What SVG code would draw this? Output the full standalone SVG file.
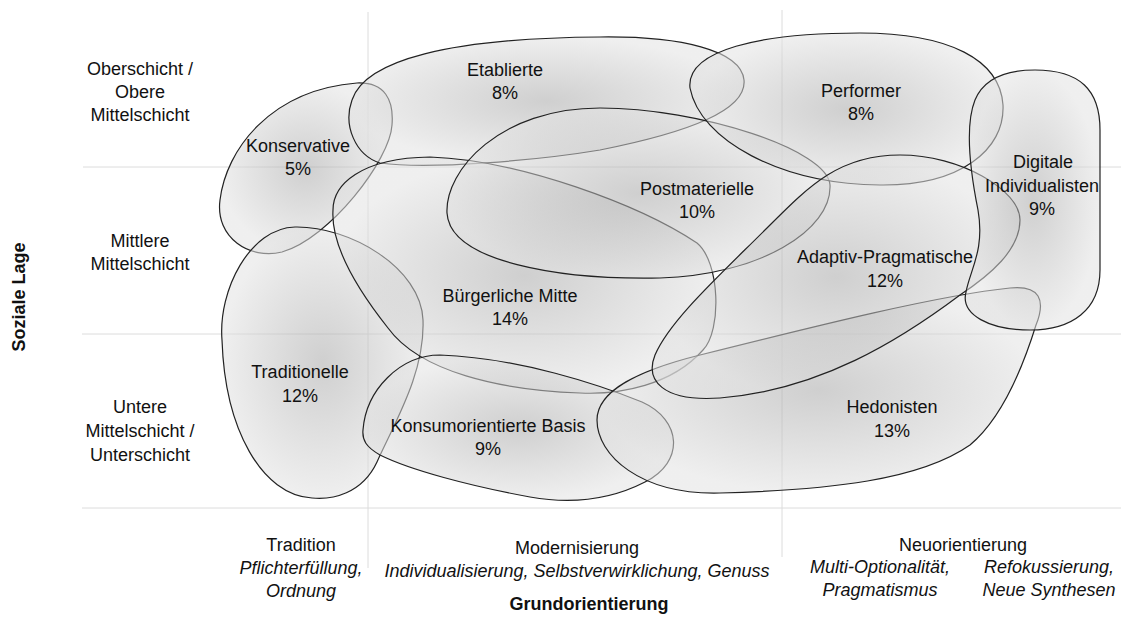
<svg xmlns="http://www.w3.org/2000/svg" width="1121" height="640" viewBox="0 0 1121 640">
<defs>
<radialGradient id="g" cx="0.5" cy="0.5" r="0.5">
<stop offset="0" stop-color="#a8a8a8"/>
<stop offset="1" stop-color="#e2e2e2"/>
</radialGradient>
<style>
.grid{stroke:#dcdcdc;stroke-width:1;fill:none}
.blob{fill:url(#g);fill-opacity:0.55;stroke:#222;stroke-width:1.2}
text{font-family:"Liberation Sans",Arial,sans-serif;font-size:18px;fill:#111;text-anchor:middle}
.it{font-style:italic}
.b{font-weight:bold}
</style>
</defs>
<g id="grid">
<line class="grid" x1="83" y1="167" x2="1121" y2="167"/>
<line class="grid" x1="82" y1="334" x2="1121" y2="334"/>
<line class="grid" x1="82" y1="508" x2="1121" y2="508"/>
<line class="grid" x1="368" y1="12" x2="368" y2="568"/>
<line class="grid" x1="782" y1="10" x2="782" y2="557"/>
</g>
<g id="connectors"></g>
<g id="konservative">
<path class="blob" d="M357,83 C385,82 394,100 392,125 C390,160 330,238 282,252 C250,260 215,238 220,200 C226,150 270,90 357,83 Z"/>
<text x="298" y="152">Konservative</text>
<text x="298" y="175">5%</text>
</g>
<g id="traditionelle">
<path class="blob" d="M222,340 C218,290 250,228 295,227 C350,226 421,268 423,320 C425,372 396,420 377,462 C362,494 332,500 312,498 C262,495 225,430 222,340 Z"/>
<text x="300" y="378">Traditionelle</text>
<text x="300" y="402">12%</text>
</g>
<g id="etablierte">
<path class="blob" d="M380,163 C355,155 343,125 352,100 C365,60 450,38 600,37 C680,36 741,50 744,80 C747,110 690,132 600,150 C540,160 430,170 380,163 Z"/>
<text x="505" y="76">Etablierte</text>
<text x="505" y="99">8%</text>
</g>
<g id="buergerliche">
<path class="blob" d="M333,210 C333,185 360,158 430,157 C520,160 640,205 697,243 C720,262 722,330 703,350 C672,385 620,395 580,393 C500,390 420,372 388,328 C350,280 331,240 333,210 Z"/>
<text x="510" y="302">Bürgerliche Mitte</text>
<text x="510" y="325">14%</text>
</g>
<g id="konsum">
<path class="blob" d="M363,430 C366,390 400,355 440,355 C520,358 600,385 642,402 C682,420 685,462 645,482 C610,500 570,504 530,497 C470,486 410,470 380,455 C366,447 362,440 363,430 Z"/>
<text x="488" y="432">Konsumorientierte Basis</text>
<text x="488" y="455">9%</text>
</g>
<g id="postmaterielle">
<path class="blob" d="M447,213 C445,170 500,108 600,108 C700,108 828,150 830,185 C832,230 760,275 660,278 C560,280 450,262 447,213 Z"/>
<text x="697" y="195">Postmaterielle</text>
<text x="697" y="218">10%</text>
</g>
<g id="performer">
<path class="blob" d="M690,88 C686,50 760,33 860,33 C950,33 1000,60 1003,105 C1005,150 960,186 880,185 C780,184 700,140 690,88 Z"/>
<text x="861" y="97">Performer</text>
<text x="861" y="120">8%</text>
</g>
<g id="hedonisten">
<path class="blob" d="M597,420 C597,390 640,370 700,355 C820,325 940,295 1010,288 C1040,285 1046,300 1036,325 C1022,370 1000,420 970,445 C920,480 830,490 720,493 C640,495 597,455 597,420 Z"/>
<text x="892" y="413">Hedonisten</text>
<text x="892" y="437">13%</text>
</g>
<g id="adaptiv">
<path class="blob" d="M900,155 C960,155 1020,190 1020,220 C1020,250 990,275 960,295 C900,340 820,390 720,398 C662,402 645,380 655,355 C670,320 720,275 770,225 C810,185 840,155 900,155 Z"/>
<text x="885" y="263">Adaptiv-Pragmatische</text>
<text x="885" y="287">12%</text>
</g>
<g id="digitale">
<path class="blob" d="M975,100 C985,76 1010,70 1035,70 C1080,70 1100,90 1100,130 L1100,270 C1100,310 1072,330 1030,330 C990,330 960,315 966,292 C970,270 985,250 978,210 C970,170 965,125 975,100 Z"/>
<text x="1043" y="168">Digitale</text>
<text x="1042" y="192">Individualisten</text>
<text x="1042" y="215">9%</text>
</g>
<g id="axis-y">
<text x="140" y="75">Oberschicht /</text>
<text x="140" y="98">Obere</text>
<text x="140" y="121">Mittelschicht</text>
<text x="140" y="247">Mittlere</text>
<text x="140" y="270">Mittelschicht</text>
<text x="140" y="413">Untere</text>
<text x="140" y="437">Mittelschicht /</text>
<text x="140" y="461">Unterschicht</text>
<text class="b" x="0" y="0" transform="translate(25,297) rotate(-90)">Soziale Lage</text>
</g>
<g id="axis-x">
<text x="301" y="551">Tradition</text>
<text class="it" x="301" y="574">Pflichterfüllung,</text>
<text class="it" x="301" y="597">Ordnung</text>
<text x="577" y="554">Modernisierung</text>
<text class="it" x="577" y="577">Individualisierung, Selbstverwirklichung, Genuss</text>
<text x="963" y="551">Neuorientierung</text>
<text class="it" x="880" y="573">Multi-Optionalität,</text>
<text class="it" x="880" y="596">Pragmatismus</text>
<text class="it" x="1049" y="573">Refokussierung,</text>
<text class="it" x="1049" y="596">Neue Synthesen</text>
<text class="b" x="589" y="610">Grundorientierung</text>
</g>
</svg>
